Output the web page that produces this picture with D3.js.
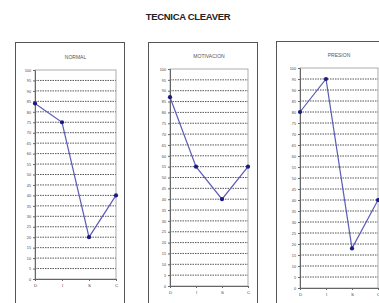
<!DOCTYPE html>
<html>
<head>
<meta charset="utf-8">
<script src="https://cdn.jsdelivr.net/npm/d3@7"></script>
<style>
  body { margin: 0; background: #fff; }
  svg { display: block; font-family: 'Liberation Sans', Arial, sans-serif; }
</style>
</head>
<body>
<svg></svg>
<script>
const width = 379
const height = 303

const title = 'TECNICA CLEAVER'
const categories = ['D', 'I', 'S', 'C']
const panelTitles = ['NORMAL', 'MOTIVACION', 'PRESION']
const normal = [84, 75, 20, 40]
const motivacion = [87, 55, 40, 55]
const presion = [80, 95, 18, 40]
const yTicks = d3.range(0, 101, 5)

// layout of the three boxes (box edges + plot area)
const panels = [
  { values: normal, box: [15, 42, 109, 280], plot: [35, 116, 70, 279], ty: 59 },
  { values: motivacion, box: [148, 42, 109, 280], plot: [170, 248, 69, 286], ty: 58 },
  { values: presion, box: [276, 41, 120, 280], plot: [300, 378, 68, 288], ty: 57 }
]

const svg = d3.select('svg')
  .attr('width', width)
  .attr('height', height)

svg.append('text')
  .attr('x', 188)
  .attr('y', 20)
  .attr('text-anchor', 'middle')
  .attr('font-size', 9.5)
  .attr('font-weight', 'bold')
  .attr('letter-spacing', -0.3)
  .attr('fill', '#222')
  .text(title)

panels.forEach((p, k) => {
  const [bx, by, bw, bh] = p.box
  const [x0, x1, y0, y1] = p.plot

  svg.append('rect')
    .attr('x', bx + 0.5)
    .attr('y', by + 0.5)
    .attr('width', bw)
    .attr('height', bh)
    .attr('fill', 'none')
    .attr('stroke', '#555')
    .attr('stroke-width', 1)

  svg.append('text')
    .attr('x', (x0 + x1) / 2)
    .attr('y', p.ty)
    .attr('text-anchor', 'middle')
    .attr('font-size', 5)
    .attr('fill', '#555')
    .text(panelTitles[k])

  const x = d3.scalePoint()
    .domain(categories)
    .range([x0, x1])

  const y = d3.scaleLinear()
    .domain([0, 100])
    .range([y1, y0])

  // grid
  svg.append('g')
    .selectAll('line')
    .data(yTicks.filter(t => t > 0 && t < 100))
    .enter()
    .append('line')
    .attr('x1', x0)
    .attr('x2', x1)
    .attr('y1', d => y(d))
    .attr('y2', d => y(d))
    .attr('stroke', '#444')
    .attr('stroke-width', 0.9)
    .attr('stroke-dasharray', '1.5,1')

  // plot frame
  svg.append('rect')
    .attr('x', x0)
    .attr('y', y0)
    .attr('width', x1 - x0)
    .attr('height', y1 - y0)
    .attr('fill', 'none')
    .attr('stroke', '#999')
    .attr('stroke-width', 0.8)

  const ya = svg.append('g')
    .attr('transform', `translate(${x0},0)`)
    .call(d3.axisLeft(y).tickValues(yTicks).tickSize(2).tickPadding(2))
  ya.select('.domain').attr('stroke', '#666')
  ya.selectAll('line').attr('stroke', '#666')
  ya.selectAll('text').attr('font-size', 3.8).attr('fill', '#444')

  const xa = svg.append('g')
    .attr('transform', `translate(0,${y1})`)
    .call(d3.axisBottom(x).tickSize(2).tickPadding(3))
  xa.select('.domain').attr('stroke', '#666')
  xa.selectAll('line').attr('stroke', '#666')
  xa.selectAll('text').attr('font-size', 4.4).attr('fill', '#444')

  svg.append('path')
    .datum(p.values)
    .attr('d', d3.line()
      .x((v, i) => x(categories[i]))
      .y(v => y(v)))
    .attr('fill', 'none')
    .attr('stroke', '#5c5cb8')
    .attr('stroke-width', 1.2)

  svg.append('g')
    .selectAll('circle')
    .data(p.values)
    .enter()
    .append('circle')
    .attr('cx', (v, i) => x(categories[i]))
    .attr('cy', v => y(v))
    .attr('r', 2.1)
    .attr('fill', '#1a1a80')
})
</script>
</body>
</html>
